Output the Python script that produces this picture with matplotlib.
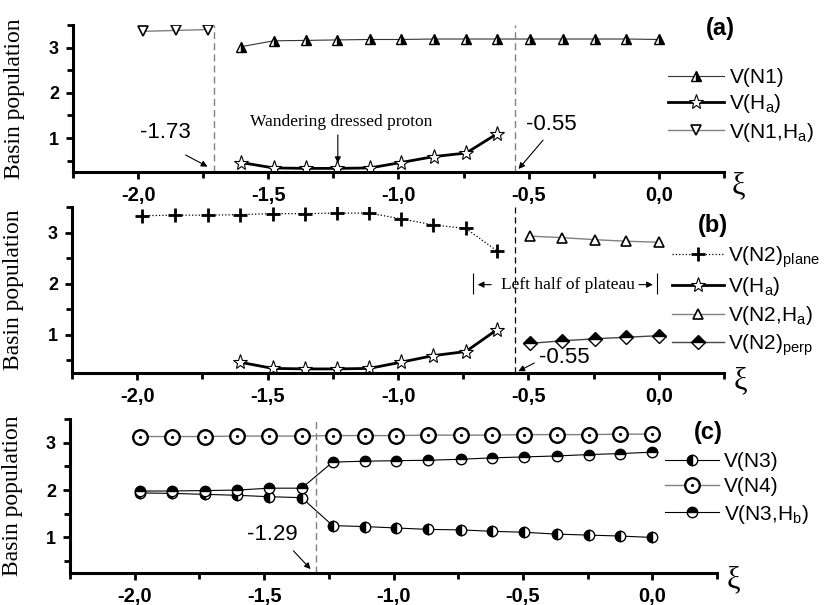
import matplotlib
matplotlib.use('Agg')
import matplotlib.pyplot as plt
from matplotlib.ticker import MultipleLocator, FuncFormatter

plt.rcParams['font.family'] = ['Liberation Sans', 'DejaVu Sans']
plt.rcParams['mathtext.default'] = 'regular'

# reaction coordinate (xi) of the computed points
xi = [-1.98, -1.855, -1.73, -1.605, -1.48, -1.355, -1.235, -1.11, -0.99,
      -0.865, -0.74, -0.62, -0.495, -0.37, -0.245, -0.125, 0.0]

# panel (a)
v_n1_ha = [3.36, 3.38, 3.40]
v_n1 = [3.02, 3.15, 3.16, 3.17, 3.18, 3.18, 3.19, 3.19, 3.19, 3.19, 3.19,
        3.19, 3.19, 3.18]
v_ha = [0.46, 0.34, 0.33, 0.33, 0.34, 0.46, 0.59, 0.67, 1.10]

# panel (b)
v_n2_plane = [3.33, 3.34, 3.34, 3.35, 3.37, 3.37, 3.38, 3.38, 3.27, 3.15,
              3.08, 2.64]
v_n2_ha = [2.93, 2.90, 2.86, 2.83, 2.81]
v_n2_perp = [0.83, 0.88, 0.92, 0.95, 0.98]

# panel (c)
v_n3 = [1.94, 1.93, 1.91, 1.89, 1.86, 1.84, 1.25, 1.23, 1.20, 1.17, 1.16,
        1.13, 1.11, 1.07, 1.05, 1.03, 1.00]
v_n4 = [3.13, 3.13, 3.13, 3.14, 3.14, 3.14, 3.15, 3.15, 3.15, 3.16, 3.16,
        3.16, 3.17, 3.17, 3.17, 3.18, 3.18]
v_n3_hb = [1.98, 1.98, 1.99, 2.00, 2.04, 2.04, 2.59, 2.61, 2.62, 2.63, 2.65,
           2.68, 2.70, 2.72, 2.75, 2.77, 2.80]

# critical points marked with dashed lines
xi_a = [-1.71, -0.553]
xi_b = -0.553
xi_c = -1.30

W, H = 826, 605
fig = plt.figure(figsize=(W / 100, H / 100), dpi=100)
axa = fig.add_axes([73 / W, 1 - 172 / H, 651 / W, 147 / H])
axb = fig.add_axes([72 / W, 1 - 373 / H, 652 / W, 166 / H])
axc = fig.add_axes([70 / W, 1 - 573 / H, 647 / W, 154 / H])

serif = 'Liberation Serif'
comma = FuncFormatter(lambda v, p: f'{round(v, 2) + 0.0:.1f}'.replace('.', ','))


def style(ax):
    ax.set_xlim(-2.25, 0.25)
    ax.set_ylim(0.25, 3.5)
    for s in ['top', 'right']:
        ax.spines[s].set_visible(False)
    for s in ['left', 'bottom']:
        ax.spines[s].set_linewidth(2.2)
    ax.xaxis.set_major_locator(MultipleLocator(0.5))
    ax.xaxis.set_minor_locator(MultipleLocator(0.25))
    ax.yaxis.set_major_locator(MultipleLocator(1))
    ax.yaxis.set_minor_locator(MultipleLocator(0.5))
    ax.xaxis.set_major_formatter(comma)
    ax.tick_params(which='major', direction='out', length=5, width=2)
    ax.tick_params(which='minor', direction='out', length=4, width=2)
    ax.tick_params(axis='x', labelsize=14.5, pad=5)
    ax.tick_params(axis='y', labelsize=13, pad=5)
    for lab in ax.get_xticklabels() + ax.get_yticklabels():
        lab.set_fontweight('bold')
    ax.set_ylabel('Basin population', family=serif, fontsize=17)
    ax.yaxis.set_label_coords(-0.073, 0.5)


for ax in [axa, axb, axc]:
    style(ax)

arrow = dict(arrowstyle='-|>', color='black', lw=0.8, mutation_scale=9)
star = dict(color='black', lw=2, marker='*', ms=11, mfc='white', mec='black', mew=0.8)
num = dict(fontsize=16, ha='center', va='center')

# ---- (a)
la1, = axa.plot(xi[3:], v_n1, '-', color='#333333', lw=0.8, marker='^', ms=7.5,
                fillstyle='right', mfc='black', markerfacecoloralt='white', mec='black')
la2, = axa.plot(xi[3:12], v_ha, '-', **star)
la3, = axa.plot(xi[:3], v_n1_ha, '-', color='gray', lw=1, marker='v', ms=7.5,
                mfc='white', mec='black', mew=1.2)
for x in xi_a:
    axa.axvline(x, color='gray', ls='--', lw=1, dashes=(5, 3))
axa.text(-1.896, 1.13, '-1.73', **num)
axa.annotate('', xy=(-1.724, 0.34), xytext=(-1.827, 0.655), arrowprops=arrow)
axa.text(-1.221, 1.35, 'Wandering dressed proton', family=serif, fontsize=12.5,
         ha='center', va='center')
axa.annotate('', xy=(-1.233, 0.385), xytext=(-1.233, 1.13), arrowprops=arrow)
axa.text(-0.415, 1.31, '-0.55', **num)
axa.annotate('', xy=(-0.546, 0.27), xytext=(-0.438, 1.0), arrowprops=arrow)
axa.text(0.237, 3.43, '(a)', fontsize=17, fontweight='bold', ha='center',
         va='center', clip_on=False)
axa.legend([la1, la2, la3], ['V(N1)', 'V(H$_a$)', 'V(N1,H$_a$)'],
           loc='center left', bbox_to_anchor=(668 / W, 1 - 106 / H),
           bbox_transform=fig.transFigure, frameon=False, fontsize=15,
           handlelength=2.7, handletextpad=0.25, labelspacing=0.25,
           borderpad=0, borderaxespad=0, numpoints=1)

# ---- (b)
lb1, = axb.plot(xi[:12], v_n2_plane, ':', color='black', lw=0.9, marker='+',
                ms=10, mew=2)
lb2, = axb.plot(xi[3:12], v_ha, '-', **star)
lb3, = axb.plot(xi[12:], v_n2_ha, '-', color='gray', lw=1, marker='^', ms=7.5,
                mfc='white', mec='black', mew=1.2)
lb4, = axb.plot(xi[12:], v_n2_perp, '-', color='#444444', lw=1, marker='D', ms=7,
                fillstyle='top', mfc='black', markerfacecoloralt='white', mec='black')
axb.axvline(xi_b, color='black', ls='--', lw=0.9, dashes=(5, 3))
axb.text(-0.35, 1.98, 'Left half of plateau', family=serif, fontsize=12.5,
         ha='center', va='center')
axb.vlines([-0.712, -0.006], 1.8, 2.2, color='black', lw=0.8)
axb.annotate('', xy=(-0.705, 1.98), xytext=(-0.632, 1.98), arrowprops=arrow)
axb.annotate('', xy=(-0.012, 1.98), xytext=(-0.087, 1.98), arrowprops=arrow)
axb.text(-0.361, 0.55, '-0.55', **num)
axb.annotate('', xy=(-0.548, 0.26), xytext=(-0.468, 0.47), arrowprops=arrow)
axb.text(0.207, 3.14, '(b)', fontsize=17, fontweight='bold', ha='center',
         va='center', clip_on=False)
axb.legend([lb1, lb2, lb3, lb4],
           ['V(N2)$_{plane}$', 'V(H$_a$)', 'V(N2,H$_a$)', 'V(N2)$_{perp}$'],
           loc='center left', bbox_to_anchor=(672 / W, 1 - 301 / H),
           bbox_transform=fig.transFigure, frameon=False, fontsize=15,
           handlelength=2.5, handletextpad=0.2, labelspacing=0.27,
           borderpad=0, borderaxespad=0, numpoints=1)

# ---- (c)
lc1, = axc.plot(xi, v_n3, '-', color='black', lw=0.8, marker='o', ms=7.5,
                fillstyle='left', mfc='black', markerfacecoloralt='white', mec='black')
lc2, = axc.plot(xi, v_n4, '-', color='gray', lw=1, marker='o', ms=10.5,
                mfc='white', mec='black', mew=1.7)
lc2d, = axc.plot(xi, v_n4, ls='none', marker='.', ms=2.5, color='black')
lc3, = axc.plot(xi, v_n3_hb, '-', color='black', lw=0.8, marker='o', ms=7.5,
                fillstyle='top', mfc='black', markerfacecoloralt='white', mec='black')
axc.axvline(xi_c, color='gray', ls='--', lw=1, dashes=(5, 3))
axc.text(-1.467, 1.06, '-1.29', **num)
axc.annotate('', xy=(-1.313, 0.29), xytext=(-1.394, 0.76), arrowprops=arrow)
axc.text(0.216, 3.22, '(c)', fontsize=17, fontweight='bold', ha='center',
         va='center', clip_on=False)
axc.legend([lc1, (lc2, lc2d), lc3], ['V(N3)', 'V(N4)', 'V(N3,H$_b$)'],
           loc='center left', bbox_to_anchor=(665 / W, 1 - 489 / H),
           bbox_transform=fig.transFigure, frameon=False, fontsize=15,
           handlelength=2.6, handletextpad=0.25, labelspacing=0.29,
           borderpad=0, borderaxespad=0, numpoints=1)

# xi axis symbols at the right end of each axis
for x, y in [(738, 186), (740, 381), (733, 580)]:
    fig.text(x / W, 1 - y / H, 'ξ', family=serif, fontsize=22, ha='center', va='center')

fig.savefig('out.png', dpi=100)
